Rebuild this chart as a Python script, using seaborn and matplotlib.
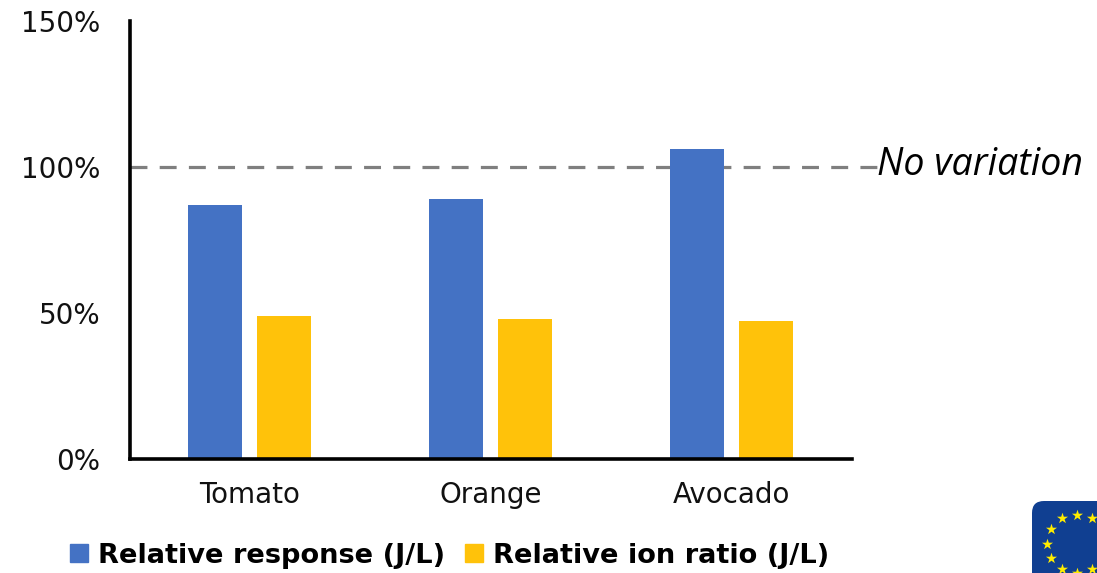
import numpy as np
import pandas as pd
import matplotlib
matplotlib.use("Agg")
import matplotlib.pyplot as plt
from matplotlib.patches import FancyBboxPatch
from matplotlib.lines import Line2D
import seaborn as sns

categories = ["Tomato", "Orange", "Avocado"]
series_names = ["Relative response (J/L)", "Relative ion ratio (J/L)"]
response = [87, 89, 106]
ion_ratio = [49, 48, 47]
colors = ["#4472C4", "#FFC20A"]
yticks = [0, 50, 100, 150]
reference_value = 100
reference_label = "No variation"

sns.set_theme(style="white")
plt.rcParams["font.family"] = ["DejaVu Sans"]

W, H = 1097, 573
fig = plt.figure(figsize=(W / 100, H / 100), dpi=100)
ax = fig.add_axes([129.5 / W, 1 - 458.5 / H, 722 / W, 437.5 / H])

df = pd.DataFrame({
    "category": categories * 2,
    "series": [series_names[0]] * 3 + [series_names[1]] * 3,
    "value": response + ion_ratio,
})
sns.barplot(data=df, x="category", y="value", hue="series", hue_order=series_names,
            palette=colors, width=0.573, gap=0.217, saturation=1, linewidth=0,
            ax=ax, legend=False, zorder=2)

ax.set_xlim(-0.5, 2.5)
ax.set_ylim(0, 150)
ax.set_xlabel("")
ax.set_ylabel("")
ax.set_yticks(yticks)
ax.set_yticklabels([f"{v}%" for v in yticks], fontsize=20, color="#111111")
ax.tick_params(axis="y", length=0, pad=21)
ax.tick_params(axis="x", length=0, pad=16.5, labelsize=20, labelcolor="#111111")
for s in ("top", "right"):
    ax.spines[s].set_visible(False)
for s in ("left", "bottom"):
    ax.spines[s].set_linewidth(2.6)
    ax.spines[s].set_color("black")
    ax.spines[s].set_zorder(3)

ax.axhline(reference_value, xmin=0, xmax=1.037, color="#7F7F7F", lw=2.3,
           dashes=(5.3, 3.84), clip_on=False, zorder=1)
ax.text(1.035, reference_value + 0.5, reference_label, transform=ax.get_yaxis_transform(),
        va="center", ha="left", fontsize=27, style="italic",
        family="Open Sans", color="black", clip_on=False)

handles = [Line2D([], [], marker="s", ls="", ms=13, color=c) for c in colors]
fig.legend(handles, series_names, loc="center left", bbox_to_anchor=(70 / W, 1 - 556 / H),
           ncol=2, frameon=False, handlelength=0.68, handletextpad=0.33, columnspacing=0.75,
           borderpad=0, borderaxespad=0, labelcolor="black",
           prop={"weight": "bold", "size": 19.65})

# EU flag emblem in the lower-right corner, cropped by the figure edge
flag_ax = fig.add_axes([0, 0, 1, 1], facecolor="none")
flag_ax.set_xlim(0, W)
flag_ax.set_ylim(H, 0)
flag_ax.axis("off")
flag_ax.add_patch(FancyBboxPatch((1044, 513), 100, 100,
                                 boxstyle="round,pad=12,rounding_size=12", fc="#103F91", ec="none"))
angles = np.deg2rad(np.arange(0, 360, 30))
flag_ax.scatter(1076.5 + 30 * np.cos(angles), 543.5 + 29 * np.sin(angles), marker="*",
                s=70, color="#FFED00", linewidths=0, zorder=3, clip_on=True)

fig.savefig("out.png", dpi=100)
